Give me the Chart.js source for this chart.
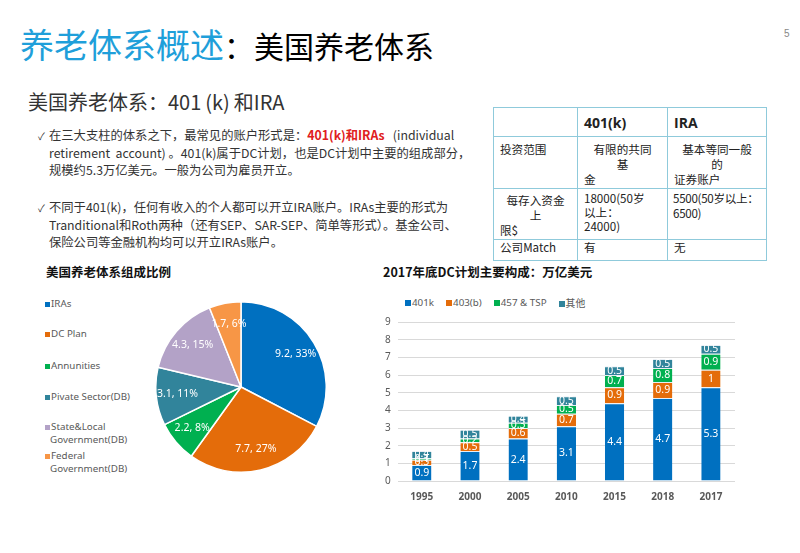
<!DOCTYPE html>
<html>
<head>
<meta charset="utf-8">
<script src="https://cdn.jsdelivr.net/npm/chart.js@4.4.0/dist/chart.umd.min.js"></script>
<style>
  body { margin: 0; width: 800px; height: 553px; background: #fff; position: relative; overflow: hidden;
         font-family: "Noto Sans CJK SC", sans-serif; color: #404040; }
  .abs { position: absolute; }
  #title { left: 20px; top: 24px; font-size: 30px; line-height: 40px; white-space: nowrap; color: #000; }
  #title .blue { color: #1f9fda; font-size: 34px; }
  #page { left: 784px; top: 28px; font-size: 10px; color: #888; font-family: "Liberation Sans", sans-serif; }
  #sub { left: 28px; top: 89px; font-size: 20px; line-height: 26px; color: #333; white-space: nowrap; }
  .bullet { left: 38px; font-size: 12.3px; line-height: 17.6px; width: 440px; white-space: nowrap; color: #333; }
  .bullet .ck { position: absolute; left: 0; font-size: 10px; }
  .bullet .tx { margin-left: 11px; }
  .red { color: #e02020; font-weight: bold; }
  #tbl { left: 493px; top: 107px; border-collapse: collapse; table-layout: fixed; width: 273px; font-size: 11.6px; color: #222; }
  #tbl td { border: 1.5px solid #8fcadb; padding: 0 6px; vertical-align: top; line-height: 15px; overflow: visible; }
  #tbl .hd { font-weight: bold; font-size: 14px; font-family: "Open Sans", sans-serif; vertical-align: middle; }
  .c { text-align: center; }
  .nw { white-space: nowrap; }
  .sect { font-size: 12.5px; font-weight: bold; color: #111; white-space: nowrap; }
  #pieLegend .it { position: absolute; left: 0; font-size: 9.8px; line-height: 12.5px; color: #595959;
                   font-family: "Noto Sans", sans-serif; white-space: nowrap; }
  #pieLegend .sq { display: inline-block; width: 5px; height: 5px; margin-right: 1px; }
  #barLegend { left: 405px; top: 296px; display: flex; gap: 12px; font-size: 9.8px; color: #595959;
               font-family: "Noto Sans", "Noto Sans CJK SC", sans-serif; white-space: nowrap; }
  #barLegend .sq { display: inline-block; width: 6px; height: 6px; margin-right: 1px; }
</style>
</head>
<body>
<div id="title" class="abs"><span class="blue">养老体系概述</span>：美国养老体系</div>
<div id="page" class="abs">5</div>
<div id="sub" class="abs">美国养老体系：401&thinsp;(k)&thinsp;和IRA</div>

<div class="abs bullet" style="top:127px">
  <span class="ck">✓</span>
  <div class="tx">在三大支柱的体系之下，最常见的账户形式是：<span class="red">401(k)和IRAs</span>&nbsp;&nbsp;&nbsp;(individual<br>retirement&nbsp;&nbsp;account)&nbsp;。401(k)属于DC计划，也是DC计划中主要的组成部分，<br>规模约5.3万亿美元。一般为公司为雇员开立。</div>
</div>
<div class="abs bullet" style="top:199px">
  <span class="ck">✓</span>
  <div class="tx">不同于401(k)，任何有收入的个人都可以开立IRA账户。IRAs主要的形式为<br>Tranditional和Roth两种（还有SEP、SAR-SEP、简单等形式）。基金公司、<br>保险公司等金融机构均可以开立IRAs账户。</div>
</div>

<table id="tbl" class="abs">
  <colgroup><col style="width:84px"><col style="width:90px"><col style="width:99px"></colgroup>
  <tr style="height:29px"><td></td><td class="hd">401(k)</td><td class="hd">IRA</td></tr>
  <tr style="height:52px"><td style="padding-top:5px">投资范围</td>
    <td style="padding-top:5px"><div class="c">有限的共同</div><div class="c">基</div><div>金</div></td>
    <td style="padding-top:5px"><div class="c">基本等同一般</div><div class="c">的</div><div>证券账户</div></td></tr>
  <tr style="height:51px"><td style="padding-top:4px"><div class="c">每存入资金</div><div class="c">上</div><div>限$</div></td>
    <td style="padding-top:2px;line-height:14px">18000(50岁<br>以上：<br>24000)</td>
    <td class="nw" style="padding-top:2px;padding-left:5px;letter-spacing:-0.3px">5500(50岁以上：<br>6500)</td></tr>
  <tr style="height:21px"><td>公司Match</td><td>有</td><td>无</td></tr>
</table>

<div class="abs sect" style="left:46px;top:262px">美国养老体系组成比例</div>
<div class="abs sect" style="left:383px;top:262px">2017年底DC计划主要构成：万亿美元</div>

<div id="pieLegend" class="abs" style="left:45px;top:298px"></div>
<div class="abs" style="left:155px;top:301px;width:172px;height:172px"><canvas id="pieChart"></canvas></div>

<div id="barLegend" class="abs"></div>
<div class="abs" style="left:370px;top:309px;width:372px;height:202px"><canvas id="barChart"></canvas></div>

<script>
// pie: 美国养老体系组成比例 (万亿美元)
const pieLegendText = [['IRAs'], ['DC Plan'], ['Annunities'], ['Pivate Sector(DB)'], ['State&Local', 'Government(DB)'], ['Federal', 'Government(DB)']];
const pieValues = [9.2, 7.7, 2.2, 3.1, 4.3, 1.7];
const pieColors = ['#0070c0', '#e46c0a', '#00b050', '#31849b', '#b3a2c7', '#f79646'];

// bars: 2017年底DC计划主要构成
const years = ['1995', '2000', '2005', '2010', '2015', '2018', '2017'];
const seriesNames = ['401k', '403(b)', '457 & TSP', '其他'];
const v401k = [0.9, 1.7, 2.4, 3.1, 4.4, 4.7, 5.3];
const v403b = [0.3, 0.5, 0.6, 0.7, 0.9, 0.9, 1];
const v457 = [0.1, 0.2, 0.3, 0.5, 0.7, 0.8, 0.9];
const vOther = [0.4, 0.5, 0.4, 0.5, 0.5, 0.5, 0.5];
const barColors = ['#0070c0', '#e46c0a', '#00b050', '#31849b'];
const yMax = 9;

// html legends
const legendTops = [0, 30, 62, 93, 123, 152];
const pieLegend = document.getElementById('pieLegend');
pieLegendText.forEach((lines, i) => {
  const it = document.createElement('div');
  it.className = 'it';
  it.style.top = legendTops[i] + 'px';
  it.innerHTML = '<span class="sq" style="background:' + pieColors[i] + '"></span>' + lines.join('<br>&nbsp;&nbsp;');
  pieLegend.appendChild(it);
});
const barLegend = document.getElementById('barLegend');
seriesNames.forEach((name, i) => {
  const it = document.createElement('div');
  it.innerHTML = '<span class="sq" style="background:' + barColors[i] + '"></span>' + name.replace('&', '&amp;');
  barLegend.appendChild(it);
});

const sliceLabels = {
  id: 'sliceLabels',
  afterDatasetsDraw(chart) {
    const { ctx } = chart;
    const total = pieValues.reduce((a, b) => a + b, 0);
    ctx.save();
    ctx.fillStyle = '#fff';
    ctx.font = '10.5px "Noto Sans", sans-serif';
    ctx.textAlign = 'center';
    ctx.textBaseline = 'middle';
    chart.getDatasetMeta(0).data.forEach((arc, i) => {
      const p = arc.getProps(['x', 'y', 'startAngle', 'endAngle', 'outerRadius']);
      const mid = (p.startAngle + p.endAngle) / 2;
      const r = p.outerRadius * 0.75;
      const pct = Math.round(pieValues[i] / total * 100);
      ctx.fillText(pieValues[i] + ', ' + pct + '%', p.x + Math.cos(mid) * r, p.y + Math.sin(mid) * r);
    });
    ctx.restore();
  },
};

const barLabels = {
  id: 'barLabels',
  afterDatasetsDraw(chart) {
    const { ctx } = chart;
    ctx.save();
    ctx.fillStyle = '#fff';
    ctx.font = '10.5px "Noto Sans", sans-serif';
    ctx.textAlign = 'center';
    ctx.textBaseline = 'middle';
    chart.data.datasets.forEach((ds, d) => {
      chart.getDatasetMeta(d).data.forEach((bar, i) => {
        const p = bar.getProps(['x', 'y', 'base']);
        ctx.fillText(String(ds.data[i]), p.x, (p.y + p.base) / 2);
      });
    });
    ctx.restore();
  },
};

new Chart(document.getElementById('pieChart').getContext('2d'), {
  type: 'pie',
  data: {
    labels: pieLegendText.map((l) => l.join(' ')),
    datasets: [{
      data: pieValues,
      backgroundColor: pieColors,
      borderColor: '#fff',
      borderWidth: 1.5,
    }],
  },
  options: {
    responsive: true,
    maintainAspectRatio: false,
    animation: false,
    plugins: { legend: { display: false }, tooltip: { enabled: false } },
  },
  plugins: [sliceLabels],
});

const seriesValues = [v401k, v403b, v457, vOther];
new Chart(document.getElementById('barChart').getContext('2d'), {
  type: 'bar',
  data: {
    labels: years,
    datasets: seriesNames.map((name, i) => ({
      label: name,
      data: seriesValues[i],
      backgroundColor: barColors[i],
      borderColor: '#e8eef4',
      borderWidth: { top: 1, bottom: 0, left: 0, right: 0 },
      barPercentage: 0.4,
      categoryPercentage: 1,
    })),
  },
  options: {
    responsive: true,
    maintainAspectRatio: false,
    animation: false,
    layout: { padding: { left: 8, right: 7, top: 8, bottom: 6 } },
    plugins: { legend: { display: false }, tooltip: { enabled: false } },
    scales: {
      x: {
        stacked: true,
        grid: { display: false },
        border: { display: false },
        ticks: { color: '#595959', padding: 2, font: { size: 10, weight: 'bold', family: '"Noto Sans", sans-serif' } },
      },
      y: {
        stacked: true,
        min: 0,
        max: yMax,
        grid: { color: '#d9d9d9', drawTicks: false },
        border: { display: false },
        ticks: { stepSize: 1, color: '#595959', padding: 7, font: { size: 10, family: '"Noto Sans", sans-serif' } },
      },
    },
  },
  plugins: [barLabels],
});
</script>
</body>
</html>
